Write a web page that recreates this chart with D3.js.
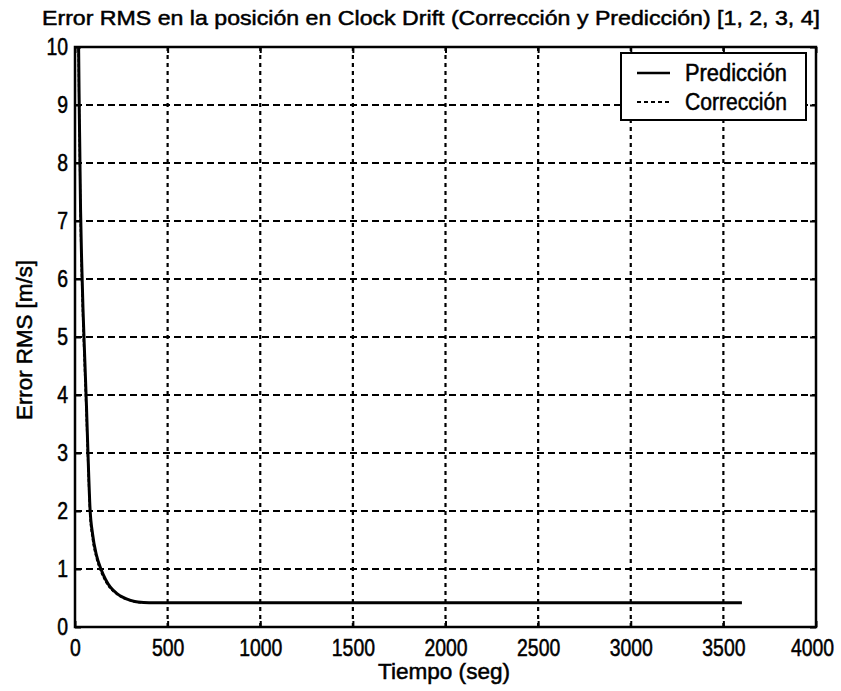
<!DOCTYPE html>
<html>
<head>
<meta charset="utf-8">
<script src="https://cdn.jsdelivr.net/npm/d3@7/dist/d3.min.js"></script>
<style>
  html, body { margin: 0; padding: 0; background: #fff; }
  svg { display: block; }
  text { font-family: "Liberation Sans Narrow", "Liberation Sans", Arial, sans-serif; fill: #000; }
</style>
</head>
<body>
<svg id="chart" width="841" height="691"></svg>
<script>
// RMS error of the clock drift estimate, predicted and corrected
const timeSec    = [0, 18, 22, 26, 30, 36, 43, 53, 62, 70, 81, 95, 115, 140, 165, 190, 225, 260, 300, 340, 400, 600, 1000, 2000, 3000, 3600];
const prediction = [14, 10.5, 9.2, 8.2, 7.2, 6.3, 5.5, 4.6, 3.8, 3.0, 2.05, 1.6, 1.25, 1.0, 0.82, 0.69, 0.58, 0.51, 0.46, 0.43, 0.42, 0.42, 0.42, 0.42, 0.42, 0.42];
const correction = [13.5, 10.2, 9.0, 8.0, 7.0, 6.1, 5.3, 4.4, 3.6, 2.85, 1.95, 1.52, 1.2, 0.96, 0.79, 0.67, 0.57, 0.5, 0.455, 0.425, 0.415, 0.415, 0.415, 0.415, 0.415, 0.415];

const xTicks = [0, 500, 1000, 1500, 2000, 2500, 3000, 3500, 4000];
const yTicks = [0, 1, 2, 3, 4, 5, 6, 7, 8, 9, 10];
const seriesNames = ["Predicción", "Corrección"];

const titleText = "Error RMS en la posición en Clock Drift (Corrección y Predicción) [1, 2, 3, 4]";
const xLabel = "Tiempo (seg)";
const yLabel = "Error RMS [m/s]";

const svg = d3.select("#chart");
const M = { left: 75, right: 816, top: 47, bottom: 627 };

const x = d3.scaleLinear().domain([0, 4000]).range([M.left, M.right]);
const y = d3.scaleLinear().domain([0, 10]).range([M.bottom, M.top]);

svg.append("defs").append("clipPath").attr("id", "plotClip")
  .append("rect")
  .attr("x", M.left).attr("y", M.top)
  .attr("width", M.right - M.left).attr("height", M.bottom - M.top);

// grid
const grid = svg.append("g");
grid.selectAll("line.h").data(yTicks.slice(1, -1)).join("line")
  .attr("x1", M.left).attr("x2", M.right)
  .attr("y1", d => y(d)).attr("y2", d => y(d))
  .attr("stroke", "#000").attr("stroke-width", 2.2)
  .attr("stroke-dasharray", "7,4");
grid.selectAll("line.v").data(xTicks.slice(1, -1)).join("line")
  .attr("y1", M.top).attr("y2", M.bottom)
  .attr("x1", d => x(d)).attr("x2", d => x(d))
  .attr("stroke", "#000").attr("stroke-width", 2.2)
  .attr("stroke-dasharray", "4,4");

// axes with inward ticks on all four sides
const tickLen = 6;
const axBottom = svg.append("g").attr("transform", `translate(0,${M.bottom})`)
  .call(d3.axisBottom(x).tickValues(xTicks).tickSize(-tickLen).tickPadding(13).tickFormat(d3.format("d")));
const axTop = svg.append("g").attr("transform", `translate(0,${M.top})`)
  .call(d3.axisTop(x).tickValues(xTicks).tickSize(-tickLen).tickFormat(""));
const axLeft = svg.append("g").attr("transform", `translate(${M.left},0)`)
  .call(d3.axisLeft(y).tickValues(yTicks).tickSize(-tickLen).tickPadding(7).tickFormat(d3.format("d")));
const axRight = svg.append("g").attr("transform", `translate(${M.right},0)`)
  .call(d3.axisRight(y).tickValues(yTicks).tickSize(-tickLen).tickFormat(""));

[axBottom, axTop, axLeft, axRight].forEach(g => {
  g.select(".domain").remove();
  g.selectAll(".tick line").attr("stroke", "#000").attr("stroke-width", 2);
  g.selectAll("text").style("font-size", "23px").attr("fill", "#000")
    .attr("stroke", "#000").attr("stroke-width", 0.5)
    .attr("lengthAdjust", "spacingAndGlyphs")
    .attr("textLength", function () { return this.textContent.length * 10.8; });
});
axBottom.selectAll("text").attr("dy", "0.7em");
// keep the last x label inside the page edge
axBottom.selectAll(".tick text").filter(d => d === 4000).attr("x", -4);

// plot frame
svg.append("rect")
  .attr("x", M.left).attr("y", M.top)
  .attr("width", M.right - M.left).attr("height", M.bottom - M.top)
  .attr("fill", "none").attr("stroke", "#000").attr("stroke-width", 2.5);

// curves
const line = d3.line().x(d => x(d[0])).y(d => y(d[1])).curve(d3.curveMonotoneX);
const plot = svg.append("g").attr("clip-path", "url(#plotClip)");
plot.append("path")
  .datum(timeSec.map((t, i) => [t, prediction[i]]))
  .attr("d", line).attr("fill", "none")
  .attr("stroke", "#000").attr("stroke-width", 3);
plot.append("path")
  .datum(timeSec.map((t, i) => [t, correction[i]]))
  .attr("d", line).attr("fill", "none")
  .attr("stroke", "#000").attr("stroke-width", 2)
  .attr("stroke-dasharray", "3,2");

// legend
const leg = svg.append("g");
leg.append("rect")
  .attr("x", 621).attr("y", 53).attr("width", 185).attr("height", 67)
  .attr("fill", "#fff").attr("stroke", "#000").attr("stroke-width", 2);
const legRows = [
  { name: seriesNames[0], dash: null, w: 2.5 },
  { name: seriesNames[1], dash: "4,3", w: 2 }
];
legRows.forEach((r, i) => {
  const cy = 73 + i * 29;
  const ln = leg.append("line")
    .attr("x1", 637).attr("x2", 670).attr("y1", cy).attr("y2", cy)
    .attr("stroke", "#000").attr("stroke-width", r.w);
  if (r.dash) ln.attr("stroke-dasharray", r.dash);
  leg.append("text")
    .attr("x", 685).attr("y", cy).attr("dy", "0.36em")
    .style("font-size", "23px")
    .attr("stroke", "#000").attr("stroke-width", 0.5)
    .attr("textLength", 102).attr("lengthAdjust", "spacingAndGlyphs")
    .text(r.name);
});

// title and axis labels
svg.append("text")
  .attr("x", 431).attr("y", 25)
  .attr("text-anchor", "middle")
  .style("font-size", "21px")
  .attr("stroke", "#000").attr("stroke-width", 0.5)
  .attr("textLength", 778).attr("lengthAdjust", "spacingAndGlyphs")
  .text(titleText);

svg.append("text")
  .attr("x", 444).attr("y", 679)
  .attr("text-anchor", "middle")
  .style("font-size", "22px")
  .attr("stroke", "#000").attr("stroke-width", 0.5)
  .attr("textLength", 132).attr("lengthAdjust", "spacingAndGlyphs")
  .text(xLabel);

svg.append("text")
  .attr("transform", "translate(32,340) rotate(-90)")
  .attr("text-anchor", "middle")
  .style("font-size", "22px")
  .attr("stroke", "#000").attr("stroke-width", 0.5)
  .attr("textLength", 160).attr("lengthAdjust", "spacingAndGlyphs")
  .text(yLabel);
</script>
</body>
</html>
